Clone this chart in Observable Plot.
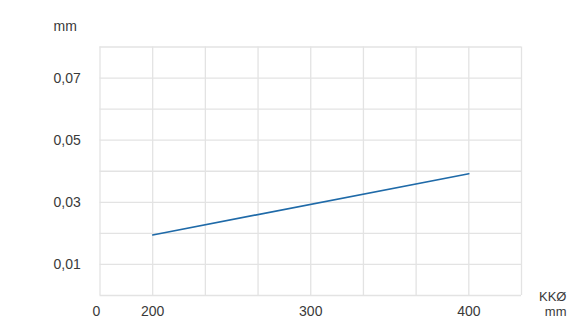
<!DOCTYPE html>
<html>
<head>
<meta charset="utf-8">
<script src="https://cdn.jsdelivr.net/npm/d3@7"></script>
<script src="https://cdn.jsdelivr.net/npm/@observablehq/plot@0.6"></script>
<style>
  html, body { margin: 0; padding: 0; background: #fff; }
</style>
</head>
<body>
<div id="chart"></div>
<script>
// Data
const diameters = [200, 400];           // KKØ, mm
const values = [0.0195, 0.0392];        // mm
const xDomain = [500 / 3, 1300 / 3];
const xGrid = [500/3, 600/3, 700/3, 800/3, 900/3, 1000/3, 1100/3, 1200/3, 1300/3];
const xLabels = [200, 300, 400];
const yGrid = [0, 0.01, 0.02, 0.03, 0.04, 0.05, 0.06, 0.07, 0.08];
const yLabels = [0.01, 0.03, 0.05, 0.07];

const data = diameters.map((d, i) => ({x: d, y: values[i]}));
const fmt = v => v.toFixed(2).replace(".", ",");
const font = "Liberation Sans, Arial, sans-serif";
const textColor = "#3a3a3a";
const gridColor = "#e3e3e3";
const fs = 14;

const chart = Plot.plot({
  width: 569,
  height: 331,
  marginLeft: 99.5,
  marginRight: 48,
  marginTop: 46.5,
  marginBottom: 36,
  style: {fontFamily: font, fontSize: fs + "px", background: "#fff", color: textColor},
  x: {domain: xDomain, axis: null},
  y: {domain: [0, 0.08], axis: null},
  marks: [
    Plot.ruleX(xGrid, {stroke: gridColor, strokeWidth: 1.3}),
    Plot.ruleY(yGrid, {stroke: gridColor, strokeWidth: 1.3}),
    Plot.line(data, {x: "x", y: "y", stroke: "#1f6aa8", strokeWidth: 1.6}),
    Plot.text(yLabels, {y: d => d, text: d => fmt(d), frameAnchor: "left", textAnchor: "start", dx: -46.5, fill: textColor, fontSize: fs}),
    Plot.text(xLabels, {x: d => d, text: d => String(d), frameAnchor: "bottom", dy: 20.5, fill: textColor, fontSize: fs}),
    Plot.text(["0"], {x: () => xDomain[0], text: d => d, frameAnchor: "bottom", dx: -3.5, dy: 20.5, fill: textColor, fontSize: fs}),
    Plot.text(["mm"], {text: d => d, frameAnchor: "top-left", textAnchor: "start", dx: -46.5, dy: -26, fill: textColor, fontSize: fs}),
    Plot.text(["KKØ"], {text: d => d, frameAnchor: "bottom-right", textAnchor: "end", dx: 45, dy: 5.5, fill: textColor, fontSize: 13}),
    Plot.text(["mm"], {text: d => d, frameAnchor: "bottom-right", textAnchor: "end", dx: 45, dy: 20.5, fill: textColor, fontSize: 13})
  ]
});
document.getElementById("chart").appendChild(chart);
</script>
</body>
</html>
